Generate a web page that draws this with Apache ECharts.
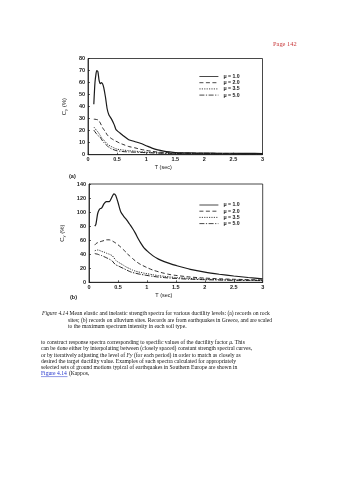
<!DOCTYPE html>
<html>
<head>
<meta charset="utf-8">
<script src="https://cdn.jsdelivr.net/npm/echarts@6/dist/echarts.min.js"></script>
<style>
  html, body { margin: 0; padding: 0; background: #fff; }
  #chart { width: 338px; height: 480px; }
</style>
</head>
<body>
<div id="chart"></div>
<script>
// Panel (a): rock sites — period (s) and strength coefficient Cy (%) per ductility level
const periodsA = [0.1,0.12,0.14,0.15,0.17,0.19,0.21,0.23,0.25,0.27,0.3,0.33,0.36,0.4,0.45,0.48,0.5,0.55,0.6,0.7,0.8,0.9,1.0,1.1,1.2,1.3,1.4,1.5,1.75,2.0,2.25,2.5,2.75,3.0];
const rockMu10 = [42,60,68,70,69,62,59,60,59,56,48,38,33,30,25,21,20,18,16,12.5,11,9.5,7.5,5.5,4,3,2.3,1.8,1.5,1.3,1.2,1.2,1.1,1.0];
const rockMu20 = [29.5,29.5,29.3,29.2,29,28,26.5,24.5,22.5,21,19,16.5,15,13.5,12,11.2,10.8,9.5,8.6,6.8,5.8,4.5,3.6,2.8,2.2,1.9,1.7,1.5,1.3,1.2,1.1,1.0,1.0,0.9];
const rockMu35 = [23,22,20.5,20,19,17.5,16,14.5,13.2,12.2,10.5,9,7.8,6.8,5.6,5,4.6,4.2,3.9,3.3,3.0,2.5,2.1,1.8,1.6,1.4,1.3,1.2,1.1,1.0,0.9,0.9,0.8,0.8];
const rockMu50 = [20.5,19,17.8,17,16,15.2,14.5,13,11.5,10.3,8.8,7.5,6,5,4,3.5,3.2,2.9,2.6,2.3,2.1,1.9,1.7,1.5,1.3,1.2,1.1,1.0,0.9,0.8,0.8,0.7,0.7,0.7];

// Panel (b): alluvium sites
const periodsB = [0.1,0.12,0.15,0.18,0.22,0.26,0.3,0.35,0.4,0.43,0.46,0.5,0.55,0.6,0.65,0.7,0.75,0.8,0.85,0.9,0.95,1.0,1.1,1.2,1.3,1.4,1.5,1.75,2.0,2.25,2.5,2.75,3.0];
const alluvMu10 = [80,83,98,104,106,112,115,115,122,126,124,114,100,94,89,83,77,70,62,55,49,45,38,33,29.5,26.5,24,18.5,14.5,11.5,9,6.8,5];
const alluvMu20 = [53,55,56.5,57.5,58.5,59.5,60.5,60.5,59,57.5,56,53.5,50,46,42,37.5,34,30.5,27.5,25,23,21,17.5,15,12.8,11,9.8,7.5,6,5,4.3,3.8,3.3];
const alluvMu35 = [45,45.5,46,45.5,44,43,41.5,40,38,35,31.5,29,26.5,24,21.5,19.5,17.5,16,14.8,14,13,12.3,10.8,9.5,8.5,7.6,6.8,5.5,4.4,3.8,3.4,3.1,2.9];
const alluvMu50 = [41,40.5,40,39,38,36.5,35,33,30.5,27.5,25,23.5,21.5,19.5,17.5,15.5,14,13,12,11.2,10.5,9.8,8.5,7.5,6.7,6,5.4,4.4,3.7,3.2,2.8,2.6,2.4];

const ductilityNames = ['μ = 1.0', 'μ = 2.0', 'μ = 3.5', 'μ = 5.0'];
const xTicks = ['0', '0.5', '1', '1.5', '2', '2.5', '3'];

const ink = '#1a1a1a';
const sans = '"Liberation Sans", Arial, sans-serif';
const serif = '"Liberation Serif", "Times New Roman", serif';

const lineStyles = [
  { width: 1.2, type: 'solid' },
  { width: 0.9, type: [4, 2.5] },
  { width: 0.9, type: [1.2, 1.2] },
  { width: 0.95, type: [5, 1.5, 1.2, 1.5] }
];

function pairs(xs, ys) { return xs.map((x, i) => [x, ys[i]]); }

function makeSeries(gridIdx, xs, sets) {
  return sets.map((ys, k) => ({
    type: 'line',
    name: ductilityNames[k],
    xAxisIndex: gridIdx,
    yAxisIndex: gridIdx,
    data: pairs(xs, ys),
    symbol: 'none',
    smooth: 0.25,
    lineStyle: Object.assign({ color: ink }, lineStyles[k]),
    itemStyle: { color: ink },
    z: 4 - k
  }));
}

function xAxis(gridIdx) {
  return {
    type: 'value', gridIndex: gridIdx, min: 0, max: 3, interval: 0.5,
    name: 'T (sec)', nameLocation: 'middle', nameGap: 10,
    nameTextStyle: { fontFamily: sans, fontSize: 5.5, color: ink, padding: [0, 24, 0, 0] },
    axisLine: { show: true, onZero: false, lineStyle: { color: ink, width: 0.8 } },
    axisTick: { show: true, inside: true, length: 2, lineStyle: { color: ink, width: 0.7 } },
    axisLabel: { fontFamily: sans, fontSize: 5.5, fontWeight: 'bold', color: ink, margin: 2,
      formatter: v => xTicks[Math.round(v * 2)] },
    splitLine: { show: false }
  };
}

function yAxis(gridIdx, max, step) {
  return {
    type: 'value', gridIndex: gridIdx, min: 0, max: max, interval: step,
    name: '{c|C}{s|y}{c| (%)}', nameLocation: 'middle', nameGap: 16, nameRotate: 90,
    nameTextStyle: { rich: {
      c: { fontFamily: sans, fontSize: 6, color: ink },
      s: { fontFamily: sans, fontSize: 4.2, color: ink, verticalAlign: 'bottom', padding: [3, 0, 0, 0] }
    } },
    axisLine: { show: true, lineStyle: { color: ink, width: 0.8 } },
    axisTick: { show: true, inside: true, length: 2, lineStyle: { color: ink, width: 0.7 } },
    axisLabel: { fontFamily: sans, fontSize: 5.5, fontWeight: 'bold', color: ink, margin: 3 },
    splitLine: { show: false }
  };
}

function legend(top) {
  return {
    data: ductilityNames, orient: 'vertical', left: 194, top: top,
    itemWidth: 19, itemHeight: 4, itemGap: 1.2, selectedMode: false,
    itemStyle: { opacity: 0, borderWidth: 0 },
    lineStyle: { width: 0.8, inactiveWidth: 0.8 },
    textStyle: { fontFamily: sans, fontSize: 5.2, lineHeight: 4.5, color: ink, fontWeight: 'bold' }
  };
}

function txt(text, x, y, opts) {
  return { type: 'text', style: Object.assign({ text: text, x: x, y: y, fill: '#111',
    fontFamily: serif, fontSize: 5.6, verticalAlign: 'middle' }, opts || {}) };
}

const captionRich = { i: { fontStyle: 'italic', fontFamily: serif, fontSize: 5.6, fill: '#111' } };

const option = {
  backgroundColor: '#fff',
  animation: false,
  grid: [
    { left: 88, top: 58.5, width: 174.5, height: 96.2, show: true, borderColor: ink, borderWidth: 0.8 },
    { left: 89, top: 184, width: 173.7, height: 98.3, show: true, borderColor: ink, borderWidth: 0.8 }
  ],
  xAxis: [xAxis(0), xAxis(1)],
  yAxis: [yAxis(0, 80, 10), yAxis(1, 140, 20)],
  legend: [legend(69), legend(197.5)],
  series: makeSeries(0, periodsA, [rockMu10, rockMu20, rockMu35, rockMu50])
    .concat(makeSeries(1, periodsB, [alluvMu10, alluvMu20, alluvMu35, alluvMu50])),
  graphic: [
    txt('Page 142', 273, 44, { fill: '#c8383a', fontSize: 6.4 }),
    txt('(a)', 69, 176, { fontFamily: sans, fontSize: 5.5, fontWeight: 'bold', fill: ink }),
    txt('(b)', 70, 297, { fontFamily: sans, fontSize: 5.5, fontWeight: 'bold', fill: ink }),
    txt('{i|Figure 4.14} Mean elastic and inelastic strength spectra for various ductility levels: (a) records on rock', 42, 314, { rich: captionRich }),
    txt('sites; (b) records on alluvium sites. Records are from earthquakes in Greece, and are scaled', 68, 320.3),
    txt('to the maximum spectrum intensity in each soil type.', 68, 326.7),
    txt('to construct response spectra corresponding to specific values of the ductility factor {i|μ}. This', 41, 342.7, { rich: captionRich }),
    txt('can be done either by interpolating between (closely spaced) constant strength spectral curves,', 41, 349),
    txt('or by iteratively adjusting the level of {i|Fy} (for each period) in order to match as closely as', 41, 355.3, { rich: captionRich }),
    txt('desired the target ductility value. Examples of such spectra calculated for appropriately', 41, 361.5),
    txt('selected sets of ground motions typical of earthquakes in Southern Europe are shown in', 41, 367.7),
    txt('Figure 4.14', 41, 373.9, { fill: '#2233cc' }),
    txt(' (Kappos,', 67.5, 373.9),
    { type: 'line', shape: { x1: 41, y1: 376.6, x2: 67.5, y2: 376.6 }, style: { stroke: '#2233cc', lineWidth: 0.5 } }
  ]
};

const chart = echarts.init(document.getElementById('chart'), null, { renderer: 'canvas' });
chart.setOption(option);
</script>
</body>
</html>
